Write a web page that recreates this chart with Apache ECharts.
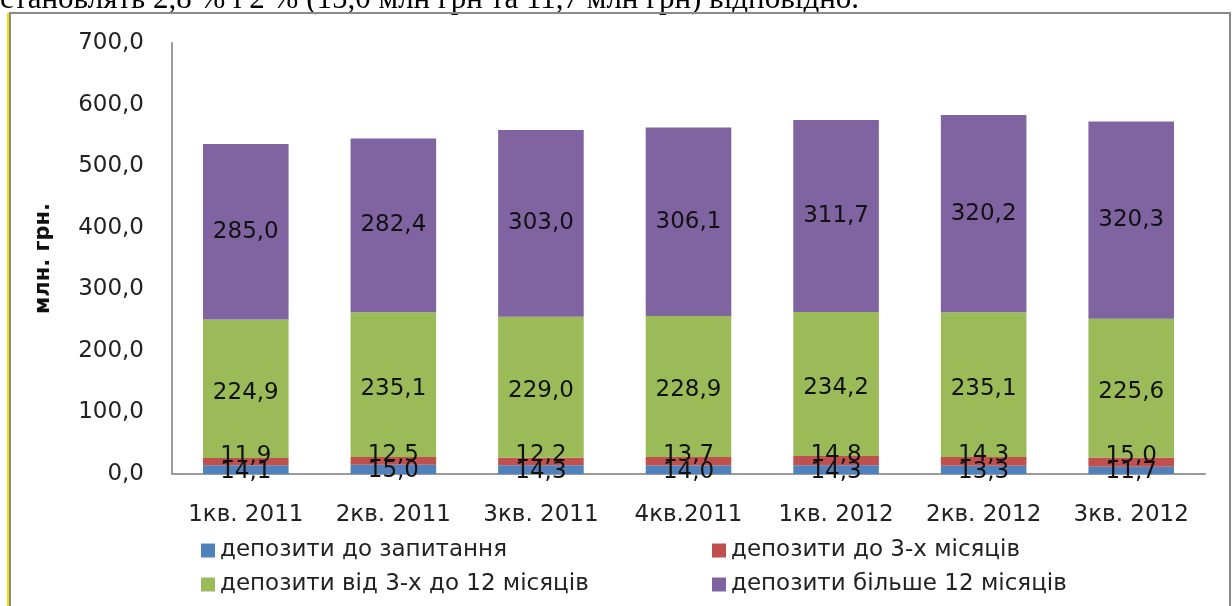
<!DOCTYPE html>
<html>
<head>
<meta charset="utf-8">
<title>Депозити</title>
<script src="https://cdn.jsdelivr.net/npm/echarts@6/dist/echarts.min.js"></script>
<style>
  html, body { margin: 0; padding: 0; background: #fff; }
  #main { width: 1232px; height: 606px; }
</style>
</head>
<body>
<div id="main"></div>
<script>
  // дані з рисунка
  var categories = ['1кв. 2011', '2кв. 2011', '3кв. 2011', '4кв.2011', '1кв. 2012', '2кв. 2012', '3кв. 2012'];
  var demand = [14.1, 15.0, 14.3, 14.0, 14.3, 13.3, 11.7];
  var upTo3 = [11.9, 12.5, 12.2, 13.7, 14.8, 14.3, 15.0];
  var from3to12 = [224.9, 235.1, 229.0, 228.9, 234.2, 235.1, 225.6];
  var over12 = [285.0, 282.4, 303.0, 306.1, 311.7, 320.2, 320.3];
  var seriesNames = ['депозити до запитання', 'депозити до 3-х місяців', 'депозити від 3-х до 12 місяців', 'депозити більше 12 місяців'];
  var colors = ['#4F81BD', '#C0504D', '#9BBB59', '#8064A2'];

  var font = '"DejaVu Sans", sans-serif';
  var fmt = function (v) { return v.toFixed(1).replace('.', ','); };

  function makeSeries(idx, values, offsetY) {
    return {
      name: seriesNames[idx],
      type: 'bar',
      stack: 'total',
      barCategoryGap: '42%',
      itemStyle: { color: colors[idx] },
      label: {
        show: true,
        position: 'inside',
        offset: [0, offsetY || 0],
        color: '#111',
        fontFamily: font,
        fontSize: 23,
        formatter: function (p) { return fmt(p.value); }
      },
      data: values
    };
  }

  function legendAt(idx, left, top) {
    return {
      data: [seriesNames[idx]],
      left: left,
      top: top,
      itemWidth: 14,
      itemHeight: 14,
      itemGap: 0,
      icon: 'rect',
      textStyle: { fontFamily: font, fontSize: 23, color: '#222' }
    };
  }

  var myChart = echarts.init(document.getElementById('main'));
  var option = {
    animation: false,
    color: colors,
    graphic: [
      {
        type: 'text', x: 0, y: 15,
        style: {
          text: 'становлять 2,8 % і 2 % (15,0 млн грн та 11,7 млн грн) відповідно.',
          font: '31px "Liberation Serif", serif', fill: '#000', verticalAlign: 'bottom'
        }
      },
      {
        type: 'rect', shape: { x: 10, y: 13, width: 1220, height: 600 },
        style: { fill: 'none', stroke: '#8a8a8a', lineWidth: 2 }
      },
      {
        type: 'line', shape: { x1: 8, y1: 13, x2: 8, y2: 606 },
        style: { stroke: '#f0e000', lineWidth: 2 }
      }
    ],
    legend: [
      legendAt(0, 196, 534),
      legendAt(1, 707, 534),
      legendAt(2, 196, 568),
      legendAt(3, 707, 568)
    ],
    grid: { left: 172, right: 27, top: 43, bottom: 132 },
    xAxis: {
      type: 'category',
      data: categories,
      axisTick: { show: false },
      axisLine: { lineStyle: { color: '#9a9a9a', width: 2 } },
      axisLabel: { interval: 0, fontFamily: font, fontSize: 23, color: '#222', margin: 30 }
    },
    yAxis: {
      type: 'value',
      min: 0,
      max: 700,
      interval: 100,
      name: 'млн. грн.',
      nameLocation: 'middle',
      nameGap: 118,
      nameRotate: 90,
      nameTextStyle: { fontFamily: font, fontSize: 21, fontWeight: 'bold', color: '#111' },
      axisLine: { show: true, lineStyle: { color: '#9a9a9a', width: 2 } },
      axisTick: { show: false },
      splitLine: { show: false },
      axisLabel: { fontFamily: font, fontSize: 23, color: '#222', margin: 28, formatter: fmt }
    },
    series: [
      makeSeries(0, demand, 2),
      makeSeries(1, upTo3, -6),
      makeSeries(2, from3to12, 4),
      makeSeries(3, over12)
    ]
  };
  myChart.setOption(option);
</script>
</body>
</html>
